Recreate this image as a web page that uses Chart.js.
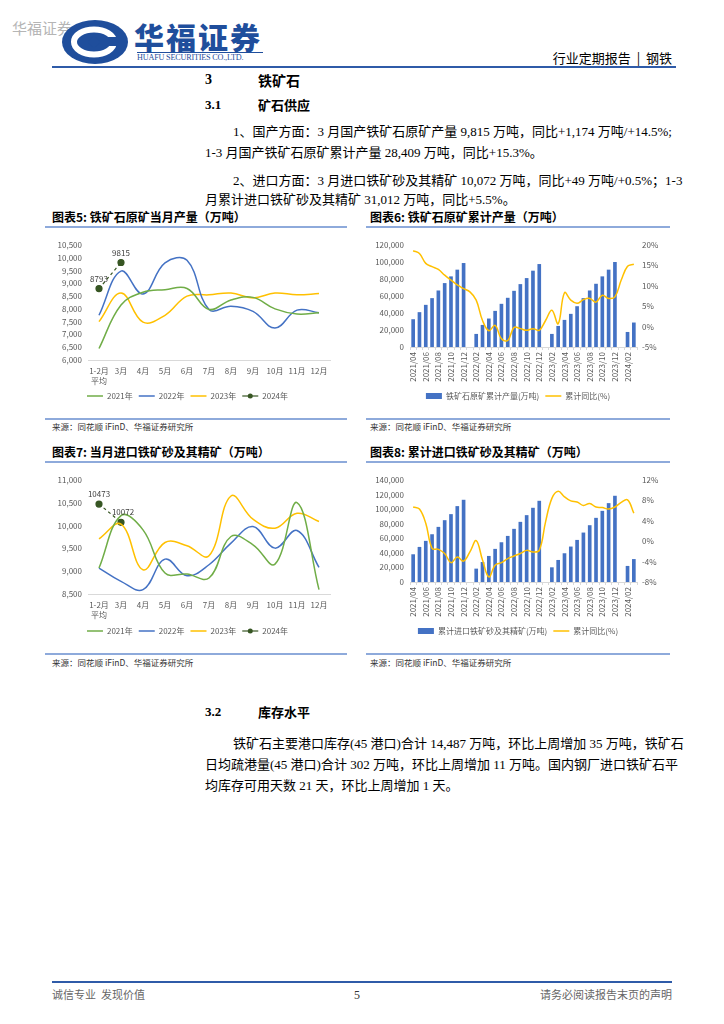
<!DOCTYPE html>
<html><head><meta charset="utf-8">
<script src="https://cdn.jsdelivr.net/npm/chart.js@4.4.1/dist/chart.umd.min.js"></script>
<style>
body{margin:0;background:#fff;width:724px;height:1024px;position:relative;overflow:hidden;font-family:"Liberation Serif","Noto Sans CJK SC",serif;color:#000}
.a{position:absolute;white-space:nowrap;line-height:1}
.p{position:absolute;font-size:13px;line-height:13px;height:13px;white-space:nowrap}
.j{text-align:justify;text-align-last:justify}
.h{font-weight:bold}
.ct{font-family:"Noto Sans CJK SC",sans-serif;font-weight:bold;font-size:12px}
.ul{position:absolute;height:2px;background:#8eaadb}
.src{font-family:"Noto Sans CJK SC",sans-serif;font-size:8.5px;color:#333}
canvas{position:absolute}
</style></head><body>

<div class="a" style="left:12px;top:20px;font-size:15px;color:#b5b5b5;font-family:'Noto Sans CJK SC'">华福证券</div>
<svg style="position:absolute;left:61px;top:19px" width="68" height="46" viewBox="0 0 68 46">
  <ellipse cx="34" cy="23" rx="33" ry="22" fill="#1f4e9c"/>
  <ellipse cx="33" cy="23" rx="20" ry="12.5" fill="none" stroke="#fff" stroke-width="6"/>
  <rect x="46" y="18" width="14" height="9" fill="#1f4e9c"/>
  <path d="M33 17 L40 23 L33 29 L26 23 Z" fill="#1f4e9c"/>
</svg>
<div class="a" style="left:134px;top:21px;font-size:30px;font-weight:900;color:#1f4e9c;letter-spacing:2px;font-family:'Noto Sans CJK SC'">华福证券</div>
<div class="a" style="left:137px;top:52px;width:126px;height:1px;background:#1f4e9c"></div>
<div class="a" style="left:137px;top:54px;font-size:8.2px;color:#1f4e9c;letter-spacing:-0.2px">HUAFU SECURITIES CO.,LTD.</div>
<div class="a" style="right:52px;top:51px;font-size:13px;font-family:'Noto Sans CJK SC'">行业定期报告&nbsp;&nbsp;|&nbsp;&nbsp;钢铁</div>
<div class="a" style="left:52px;top:66px;width:624px;height:2px;background:#2f5ba8"></div>

<div class="a h" style="left:205px;top:73px;font-size:14px">3</div>
<div class="a h" style="left:258px;top:73px;font-size:14px;font-family:'Noto Sans CJK SC'">铁矿石</div>
<div class="a h" style="left:205px;top:98px;font-size:13px">3.1</div>
<div class="a h" style="left:258px;top:98px;font-size:13px;font-family:'Noto Sans CJK SC'">矿石供应</div>

<div class="p j" style="left:233px;width:437px;top:125px">1、国产方面：3 月国产铁矿石原矿产量 9,815 万吨，同比+1,174 万吨/+14.5%;</div>
<div class="p" style="left:205px;top:146px">1-3 月国产铁矿石原矿累计产量 28,409 万吨，同比+15.3%。</div>
<div class="p j" style="left:233px;width:437px;top:174px">2、进口方面：3 月进口铁矿砂及其精矿 10,072 万吨，同比+49 万吨/+0.5%；1-3</div>
<div class="p" style="left:205px;top:193px">月累计进口铁矿砂及其精矿 31,012 万吨，同比+5.5%。</div>

<div class="a ct" style="left:52px;top:211px">图表5: 铁矿石原矿当月产量（万吨）</div>
<div class="a ct" style="left:370px;top:211px">图表6: 铁矿石原矿累计产量（万吨）</div>
<div class="ul" style="left:45px;top:226px;width:302px"></div>
<div class="ul" style="left:366px;top:226px;width:304px"></div>

<canvas id="c1" width="305" height="178" style="left:45px;top:232px"></canvas>
<canvas id="c2" width="304" height="178" style="left:366px;top:232px"></canvas>

<div class="ul" style="left:45px;top:418px;width:302px"></div>
<div class="ul" style="left:366px;top:418px;width:304px"></div>
<div class="a src" style="left:52px;top:422px">来源：同花顺 iFinD、华福证券研究所</div>
<div class="a src" style="left:370px;top:422px">来源：同花顺 iFinD、华福证券研究所</div>

<div class="a ct" style="left:52px;top:446px">图表7: 当月进口铁矿砂及其精矿（万吨）</div>
<div class="a ct" style="left:370px;top:446px">图表8: 累计进口铁矿砂及其精矿（万吨）</div>
<div class="ul" style="left:45px;top:461px;width:302px"></div>
<div class="ul" style="left:366px;top:461px;width:304px"></div>

<canvas id="c3" width="305" height="178" style="left:45px;top:467px"></canvas>
<canvas id="c4" width="304" height="178" style="left:366px;top:467px"></canvas>

<div class="ul" style="left:45px;top:653px;width:302px"></div>
<div class="ul" style="left:366px;top:653px;width:304px"></div>
<div class="a src" style="left:52px;top:658px">来源：同花顺 iFinD、华福证券研究所</div>
<div class="a src" style="left:370px;top:658px">来源：同花顺 iFinD、华福证券研究所</div>

<div class="a h" style="left:205px;top:705px;font-size:13px">3.2</div>
<div class="a h" style="left:258px;top:705px;font-size:13px;font-family:'Noto Sans CJK SC'">库存水平</div>
<div class="p j" style="left:233px;width:437px;top:737px">铁矿石主要港口库存(45 港口)合计 14,487 万吨，环比上周增加 35 万吨，铁矿石</div>
<div class="p j" style="left:205px;width:465px;top:758px">日均疏港量(45 港口)合计 302 万吨，环比上周增加 11 万吨。国内钢厂进口铁矿石平</div>
<div class="p" style="left:205px;top:779px">均库存可用天数 21 天，环比上周增加 1 天。</div>

<div class="a" style="left:52px;top:981px;width:620px;height:2px;background:#2f5ba8"></div>
<div class="a" style="left:52px;top:989px;font-size:11px;color:#666;font-family:'Noto Sans CJK SC'">诚信专业&nbsp;&nbsp;发现价值</div>
<div class="a" style="left:354px;top:989px;font-size:12px;color:#333">5</div>
<div class="a" style="right:52px;top:989px;font-size:11px;color:#666;font-family:'Noto Sans CJK SC'">请务必阅读报告末页的声明</div>

<script>
// ---- data ----
const monthCats = [['1-2月','平均'],'3月','4月','5月','6月','7月','8月','9月','10月','11月','12月'];
const prod2021 = [6450, 8150, 8650, 8750, 8800, 7980, 8350, 8450, 8000, 7800, 7850];
const prod2022 = [7750, 9480, 8580, 9800, 9900, 7980, 8100, 7900, 7250, 7950, 7850];
const prod2023 = [7500, 8620, 7480, 7750, 8500, 8550, 8620, 8430, 8620, 8550, 8600];
const prod2024 = [8793, 9815, null, null, null, null, null, null, null, null, null];

const imp2021 = [9069, 10220, 9907, 8959, 8937, 8850, 9761, 9579, 9156, 10504, 8595];
const imp2022 = [9069, 8777, 8595, 9265, 8900, 9141, 9615, 9980, 9506, 9892, 9083];
const imp2023 = [9710, 10031, 9032, 9630, 9557, 9338, 10650, 10140, 9943, 10271, 10089];
const imp2024 = [10473, 10072, null, null, null, null, null, null, null, null, null];

const cumCats = ['2021/04','2021/05','2021/06','2021/07','2021/08','2021/09','2021/10','2021/11','2021/12',
  '2022/01','2022/02','2022/03','2022/04','2022/05','2022/06','2022/07','2022/08','2022/09','2022/10','2022/11','2022/12',
  '2023/01','2023/02','2023/03','2023/04','2023/05','2023/06','2023/07','2023/08','2023/09','2023/10','2023/11','2023/12',
  '2024/01','2024/02','2024/03'];
const cumProd = [32300, 40600, 49200, 57100, 66100, 74800, 82700, 90600, 98400,
  null, 15000, 25600, 33100, 42100, 50400, 57500, 65700, 73600, 80700, 89400, 97200,
  null, 15000, 24400, 31500, 38600, 47600, 57100, 66100, 74000, 82700, 90600, 99600,
  null, 17300, 28409];
const cumProdYoy = [18.6, 17.9, 15.5, 14.7, 14.0, 12.6, 11.4, 10.2, 9.3,
  8.5, 6.5, 1.5, -1.0, 0.3, -3.0, -3.4, -0.2, -0.5, -0.9, -0.5, -0.9,
  1.5, 4.0, 0.7, 8.3, 6.5, 5.7, 6.6, 6.9, 6.0, 7.7, 6.9, 7.3,
  11.4, 14.8, 15.3];
const cumImp = [37600, 47700, 56000, 65100, 75200, 84400, 92700, 103700, 112400,
  null, 17900, 27000, 35300, 45000, 54100, 62800, 72500, 82100, 91300, 101400, 111000,
  null, 19700, 29800, 39000, 48200, 57300, 67400, 77500, 87600, 97200, 107800, 117900,
  null, 21600, 31012];
const cumImpYoy = [6.7, 6.3, 3.5, -1.4, -1.6, -2.4, -4.2, -3.1, -3.9,
  -2.1, 0.1, -3.7, -7.0, -4.7, -4.2, -3.4, -2.9, -2.4, -1.8, -2.1, -1.8,
  3.8, 8.4, 9.8, 8.7, 7.9, 7.7, 7.0, 7.4, 6.7, 6.6, 6.3, 6.7,
  7.6, 8.1, 5.5];

// ---- style ----
Chart.defaults.font.family = "'Noto Sans CJK SC','DejaVu Sans',sans-serif";
Chart.defaults.font.size = 8;
Chart.defaults.color = '#595959';
Chart.defaults.animation = false;

const C21 = '#70AD47', C22 = '#4472C4', C23 = '#FFC000', C24 = '#375623', BAR = '#4472C4', AX = '#d9d9d9';

const pointLabels = {
  id: 'pointLabels',
  afterDatasetsDraw(chart) {
    const ctx = chart.ctx;
    chart.data.datasets.forEach((ds, di) => {
      if (!ds.showValues) return;
      const meta = chart.getDatasetMeta(di);
      ctx.save();
      ctx.font = "8px 'Noto Sans CJK SC'";
      ctx.fillStyle = '#404040';
      ctx.textAlign = 'center';
      ctx.textBaseline = 'bottom';
      meta.data.forEach((pt, i) => {
        const v = ds.data[i];
        if (v == null) return;
        ctx.fillText(String(v), pt.x + (ds.labelDx ? ds.labelDx[i] : 0), pt.y - 6);
      });
      ctx.restore();
    });
  }
};
const legendMarker = {
  id: 'legendMarker',
  afterDraw(chart) {
    const lg = chart.legend;
    if (!lg || !lg.legendHitBoxes) return;
    const ctx = chart.ctx;
    lg.legendItems.forEach((it, k) => {
      const ds = chart.data.datasets[it.datasetIndex];
      if (!ds.legendDot) return;
      const hb = lg.legendHitBoxes[k];
      if (!hb) return;
      const bw = lg.options.labels.pointStyleWidth;
      ctx.save();
      ctx.fillStyle = ds.pointBackgroundColor;
      ctx.beginPath();
      ctx.arc(hb.left + bw / 2, hb.top + hb.height / 2, 2.5, 0, Math.PI * 2);
      ctx.fill();
      ctx.restore();
    });
  }
};

function legendOpts() {
  return {
    position: 'bottom',
    labels: {
      usePointStyle: true, pointStyleWidth: 16, boxHeight: 6, padding: 6,
      font: { size: 8 }, color: '#595959',
      sort: (a, b) => a.datasetIndex - b.datasetIndex,
      generateLabels(chart) {
        const items = Chart.defaults.plugins.legend.labels.generateLabels(chart);
        items.forEach(it => {
          const ds = chart.data.datasets[it.datasetIndex];
          const t = ds.type || chart.config.type;
          it.pointStyle = t === 'bar' ? 'rect' : 'line';
        });
        return items;
      }
    }
  };
}
function lineDs(label, data, color) {
  return { label, data, borderColor: color, backgroundColor: color, borderWidth: 1.5, pointRadius: 0, tension: 0.4, fill: false };
}
function dotDs(label, data, dx) {
  return { label, data, borderColor: C24, backgroundColor: C24, pointBackgroundColor: C24, pointBorderColor: C24,
    borderWidth: 1.2, borderDash: [3, 3], pointRadius: 3, tension: 0, showValues: true, legendDot: true, labelDx: dx };
}
function monthChart(id, sets, min, max, step, xH) {
  return new Chart(document.getElementById(id), {
    type: 'line',
    data: { labels: monthCats, datasets: sets },
    options: {
      responsive: false, devicePixelRatio: 1,
      layout: { padding: { top: 13, right: 20, bottom: 0, left: 0 } },
      scales: {
        x: { offset: true, grid: { display: false, drawTicks: false }, border: { color: AX },
             ticks: { padding: 6, autoSkip: false, maxRotation: 0, font: { size: 8, lineHeight: 1.25 } },
             afterFit(s) { s.height = xH; } },
        y: { min, max, grid: { display: false, drawTicks: false }, border: { display: false },
             ticks: { stepSize: step, padding: 6, callback: v => v.toLocaleString('en-US') },
             afterFit(s) { s.width = 43; } }
      },
      plugins: { legend: legendOpts(), tooltip: { enabled: false } }
    },
    plugins: [pointLabels, legendMarker]
  });
}
function cumChart(id, bars, barLabel, yoy, lmax, lstep, rmin, rmax, rstep) {
  return new Chart(document.getElementById(id), {
    type: 'bar',
    data: { labels: cumCats, datasets: [
      { label: barLabel, data: bars, backgroundColor: BAR, barThickness: 3, yAxisID: 'y', order: 2 },
      { type: 'line', label: '累计同比(%)', data: yoy, borderColor: C23, backgroundColor: C23, borderWidth: 1.5,
        pointRadius: 0, tension: 0.4, yAxisID: 'y1', order: 1 }
    ]},
    options: {
      responsive: false, devicePixelRatio: 1,
      layout: { padding: { top: 13, right: 0, bottom: 0, left: 0 } },
      scales: {
        x: { grid: { display: true, drawOnChartArea: false, tickLength: 3, color: AX }, border: { color: AX },
             ticks: { padding: 2, autoSkip: false, minRotation: 90, maxRotation: 90, font: { size: 8 },
               callback(v, i) { return i % 2 === 0 ? this.getLabelForValue(v) : ''; } },
             afterFit(s) { s.height = 39; } },
        y: { position: 'left', min: 0, max: lmax, grid: { display: false, drawTicks: false }, border: { display: false },
             ticks: { stepSize: lstep, padding: 6, callback: v => v.toLocaleString('en-US') },
             afterFit(s) { s.width = 44; } },
        y1: { position: 'right', min: rmin, max: rmax, grid: { display: false, drawTicks: false }, border: { display: false },
             ticks: { stepSize: rstep, padding: 5, callback: v => v + '%' },
             afterFit(s) { s.width = 33; } }
      },
      plugins: { legend: legendOpts(), tooltip: { enabled: false } }
    }
  });
}

monthChart('c1', [lineDs('2021年', prod2021, C21), lineDs('2022年', prod2022, C22), lineDs('2023年', prod2023, C23),
  dotDs('2024年', prod2024, [0, 0])], 6000, 10500, 500, 26);
cumChart('c2', cumProd, '铁矿石原矿累计产量(万吨)', cumProdYoy, 120000, 20000, -5, 20, 5);
monthChart('c3', [lineDs('2021年', imp2021, C21), lineDs('2022年', imp2022, C22), lineDs('2023年', imp2023, C23),
  dotDs('2024年', imp2024, [0, 2])], 8500, 11000, 500, 27);
cumChart('c4', cumImp, '累计进口铁矿砂及其精矿(万吨)', cumImpYoy, 140000, 20000, -8, 12, 2);
</script>
</body></html>
